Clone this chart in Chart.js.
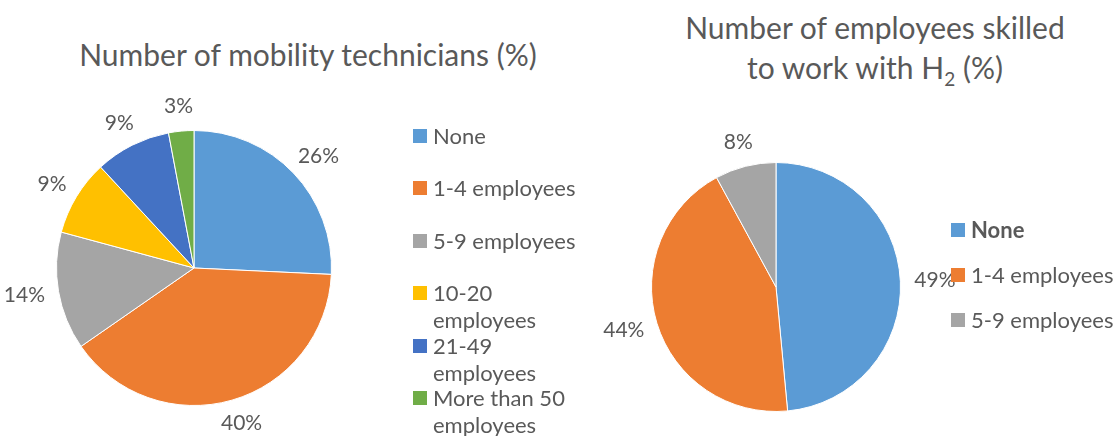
<!DOCTYPE html>
<html>
<head>
<meta charset="utf-8">
<script src="https://cdn.jsdelivr.net/npm/chart.js@4"></script>
<style>
    body { margin: 0; background: #fff; width: 1120px; height: 436px; overflow: hidden; position: relative; font-family: Lato, "Open Sans", sans-serif; color: #595959; }
    canvas { position: absolute; top: 0; }
    .title { position: absolute; text-align: center; font-size: 30px; line-height: 40px; white-space: nowrap; }
    .title sub { font-size: 19px; line-height: 0; vertical-align: -7px; }
    .legend { position: absolute; font-size: 22px; }
    .legend .item { position: absolute; left: 0; line-height: 27px; }
    .legend .box { position: absolute; left: 0; top: 7px; width: 14px; height: 14px; }
    .legend .txt { display: block; margin-left: 20px; }
</style>
</head>
<body>
<div class="title" id="titleLeft" style="left: 58px; top: 34px; width: 500px;">Number of mobility technicians (%)</div>
<div class="title" id="titleRight" style="left: 625px; top: 7px; width: 500px;">Number of employees skilled<br>to work with H<sub>2</sub> (%)</div>
<canvas id="techChart" width="600" height="436" style="left: 0;"></canvas>
<canvas id="h2Chart" width="520" height="436" style="left: 600px;"></canvas>
<div class="legend" id="legendLeft" style="left: 413px; top: 0;"></div>
<div class="legend" id="legendRight" style="left: 951px; top: 0;"></div>

<script>
// mobility technicians per company
const techLabels = ['None', '1-4 employees', '5-9 employees', '10-20 employees', '21-49 employees', 'More than 50 employees']
const techValues = [26, 40, 14, 9, 9, 3]

// employees skilled to work with hydrogen
const h2Labels = ['None', '1-4 employees', '5-9 employees']
const h2Values = [49, 44, 8]

const sliceColors = ['#5B9BD5', '#ED7D31', '#A5A5A5', '#FFC000', '#4472C4', '#70AD47']
const textColor = '#595959'

// percentage labels just outside each slice
const outsideLabels = {
    id: 'outsideLabels',
    afterDatasetsDraw(chart, args, opts) {
        const ctx = chart.ctx
        const meta = chart.getDatasetMeta(0)
        const values = chart.data.datasets[0].data
        ctx.save()
        ctx.font = opts.size + 'px Lato, "Open Sans", sans-serif'
        ctx.fillStyle = textColor
        ctx.textAlign = 'center'
        ctx.textBaseline = 'middle'
        meta.data.forEach((arc, i) => {
            const p = arc.getProps(['x', 'y', 'startAngle', 'endAngle', 'outerRadius'], true)
            const mid = (p.startAngle + p.endAngle) / 2
            const ux = Math.cos(mid)
            const uy = Math.sin(mid)
            const text = values[i] + '%'
            const w = ctx.measureText(text).width
            const h = opts.size
            const d = p.outerRadius + opts.pad
            ctx.fillText(text, p.x + ux * d + ux * w / 2, p.y + uy * d + uy * h / 2)
        })
        ctx.restore()
    }
}

function makePie(id, labels, values, padding) {
    const ctx = document.getElementById(id).getContext('2d')
    return new Chart(ctx, {
        type: 'pie',
        data: {
            labels: labels,
            datasets: [{
                data: values,
                backgroundColor: sliceColors.slice(0, values.length),
                borderColor: '#ffffff',
                borderWidth: 1
            }]
        },
        options: {
            responsive: false,
            animation: false,
            events: [],
            layout: { padding: padding },
            plugins: {
                legend: { display: false },
                tooltip: { enabled: false },
                outsideLabels: { size: 21, pad: 14 }
            }
        },
        plugins: [outsideLabels]
    })
}

function buildLegend(id, labels, firstCenter, step, boldFirst) {
    const el = document.getElementById(id)
    labels.forEach((name, i) => {
        const item = document.createElement('div')
        item.className = 'item'
        item.style.top = (firstCenter + i * step - 13.5) + 'px'
        item.style.width = id == 'legendLeft' ? '175px' : '200px'
        const box = document.createElement('span')
        box.className = 'box'
        box.style.background = sliceColors[i]
        const txt = document.createElement('span')
        txt.className = 'txt'
        txt.textContent = name
        if (boldFirst && i == 0) txt.style.fontWeight = 'bold'
        item.appendChild(box)
        item.appendChild(txt)
        el.appendChild(item)
    })
}

makePie('techChart', techLabels, techValues, { left: 56, right: 268, top: 130, bottom: 30 })
makePie('h2Chart', h2Labels, h2Values, { left: 51, right: 219, top: 162, bottom: 24 })

buildLegend('legendLeft', techLabels, 135, 52.5, false)
buildLegend('legendRight', h2Labels, 229, 45, true)
</script>
</body>
</html>
